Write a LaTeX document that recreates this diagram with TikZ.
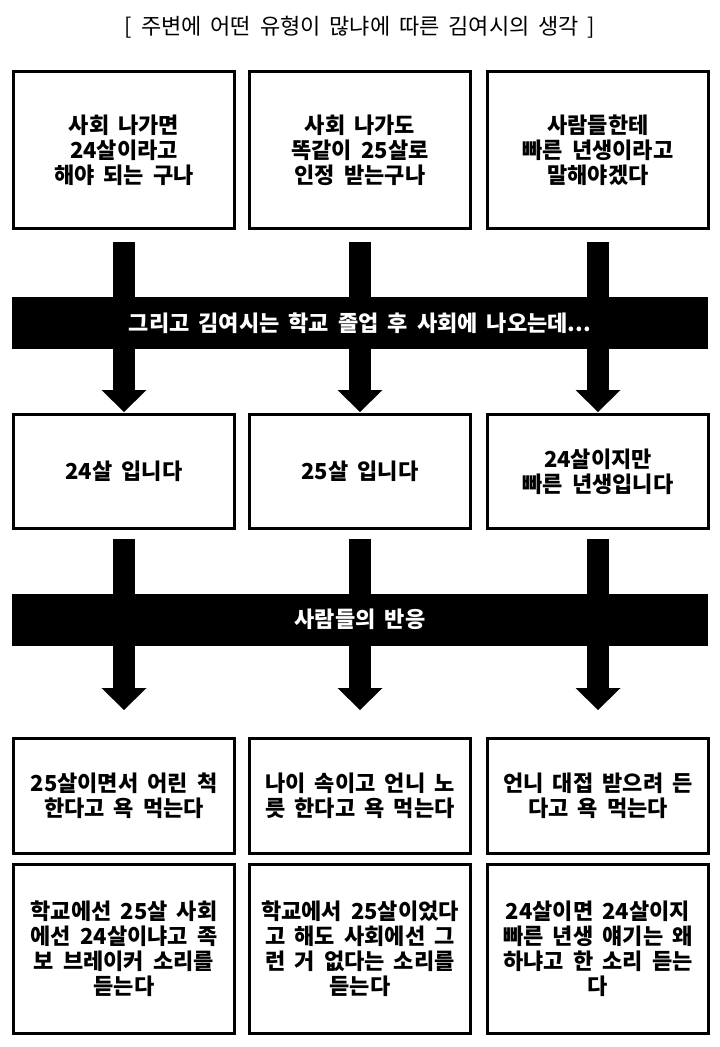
\documentclass[tikz,border=0pt]{standalone}
\usepackage{fontspec}
\setmainfont{Noto Sans CJK KR}[WordSpace=1.8]
\usetikzlibrary{arrows.meta}
\begin{document}
\begin{tikzpicture}[
                x=1pt, y=-1pt,
                ageText/.style={font=\bfseries\fontsize{22}{25}\selectfont,align=center},
                ageTitle/.style={font=\fontsize{22}{25}\selectfont},
                ageBox/.style={ageText,draw=black,line width=3pt,
                               minimum width=221pt,inner sep=0pt},
                ageBand/.style={ageText,fill=black,text=white,
                                minimum width=696pt,minimum height=52pt,inner sep=0pt},
                ageArrow/.style={draw=black,line width=22pt,
                                 -{Triangle[width=45pt,length=22pt,line width=0pt]}}]
                \useasboundingbox (0,0) rectangle (720,1047);
                \node[ageTitle] (title) at (360,27) {[ 주변에 어떤 유형이 많냐에 따른 김여시의 생각 ]};
                \node[ageBox,minimum height=157pt] (a1) at (124,150) {사회 나가면\\24살이라고\\해야 되는 구나};
                \node[ageBox,minimum height=157pt] (a2) at (360,150) {사회 나가도\\똑같이 25살로\\인정 받는구나};
                \node[ageBox,minimum height=157pt] (a3) at (598,150) {사람들한테\\빠른 년생이라고\\말해야겠다};
                \node[ageBox,minimum height=114pt] (b1) at (124,471.5) {24살 입니다};
                \node[ageBox,minimum height=114pt] (b2) at (360,471.5) {25살 입니다};
                \node[ageBox,minimum height=114pt] (b3) at (598,471.5) {24살이지만\\빠른 년생입니다};
                \node[ageBox,minimum height=115pt] (c1) at (124,796) {25살이면서 어린 척\\한다고 욕 먹는다};
                \node[ageBox,minimum height=115pt] (c2) at (360,796) {나이 속이고 언니 노\\릇 한다고 욕 먹는다};
                \node[ageBox,minimum height=115pt] (c3) at (598,796) {언니 대접 받으려 든\\다고 욕 먹는다};
                \node[ageBox,minimum height=169pt] (d1) at (124,949) {학교에선 25살 사회\\에선 24살이냐고 족\\보 브레이커 소리를\\듣는다};
                \node[ageBox,minimum height=169pt] (d2) at (360,949) {학교에서 25살이었다\\고 해도 사회에선 그\\런 거 없다는 소리를\\듣는다};
                \node[ageBox,minimum height=169pt] (d3) at (598,949) {24살이면 24살이지\\빠른 년생 얘기는 왜\\하냐고 한 소리 듣는\\다};
                \foreach \c in {1,2,3} {
                  \draw[ageArrow,shorten <=12pt,shorten >=1pt] (a\c) -- (b\c);
                  \draw[ageArrow,shorten <=9pt,shorten >=27pt] (b\c) -- (c\c);
                }
                \node[ageBand] (band1) at (360,323) {그리고 김여시는 학교 졸업 후 사회에 나오는데...};
                \node[ageBand] (band2) at (360,619.5) {사람들의 반응};
            \end{tikzpicture}
\end{document}
